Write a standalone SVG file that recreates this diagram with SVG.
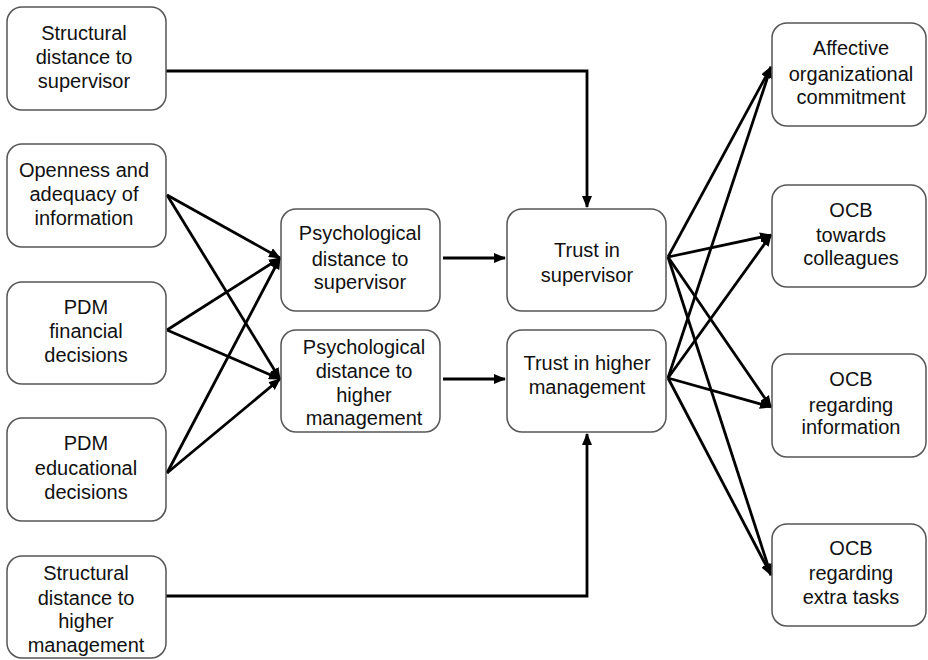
<svg xmlns="http://www.w3.org/2000/svg" width="928" height="660" viewBox="0 0 928 660">
<style>
.box{fill:#fff;stroke:#555;stroke-width:1.5}
text{font-family:"Liberation Sans",Arial,sans-serif;font-size:20px;fill:#111;text-anchor:middle}
.c{fill:none;stroke:#000;stroke-width:2.8}
</style>
<defs>
<marker id="ah" markerUnits="userSpaceOnUse" markerWidth="12" markerHeight="10" refX="11" refY="5" orient="auto">
<path d="M0,0 L12,5 L0,10 Z" fill="#000"/>
</marker>
</defs>
<rect width="928" height="660" fill="#fff"/>
<g id="connectors">
<path class="c" d="M166,71 H587 V207" marker-end="url(#ah)"/>
<path class="c" d="M166,596 H587 V434" marker-end="url(#ah)"/>
<line class="c" x1="167" y1="195" x2="280" y2="258" marker-end="url(#ah)"/>
<line class="c" x1="167" y1="195" x2="280" y2="379" marker-end="url(#ah)"/>
<line class="c" x1="167" y1="330" x2="280" y2="258" marker-end="url(#ah)"/>
<line class="c" x1="167" y1="330" x2="280" y2="379" marker-end="url(#ah)"/>
<line class="c" x1="167" y1="473" x2="280" y2="258" marker-end="url(#ah)"/>
<line class="c" x1="167" y1="473" x2="280" y2="379" marker-end="url(#ah)"/>
<line class="c" x1="443" y1="258" x2="505" y2="258" marker-end="url(#ah)"/>
<line class="c" x1="443" y1="379" x2="505" y2="379" marker-end="url(#ah)"/>
<line class="c" x1="668" y1="257" x2="771" y2="67" marker-end="url(#ah)"/>
<line class="c" x1="668" y1="257" x2="771" y2="235" marker-end="url(#ah)"/>
<line class="c" x1="668" y1="257" x2="771" y2="407" marker-end="url(#ah)"/>
<line class="c" x1="668" y1="257" x2="771" y2="575" marker-end="url(#ah)"/>
<line class="c" x1="668" y1="378" x2="771" y2="67" marker-end="url(#ah)"/>
<line class="c" x1="668" y1="378" x2="771" y2="235" marker-end="url(#ah)"/>
<line class="c" x1="668" y1="378" x2="771" y2="407" marker-end="url(#ah)"/>
<line class="c" x1="668" y1="378" x2="771" y2="575" marker-end="url(#ah)"/>
</g>
<g id="struct-sup"><rect class="box" x="7" y="7" width="159" height="103" rx="15"/>
<text x="84" y="40">Structural</text><text x="84" y="64">distance to</text><text x="84" y="88">supervisor</text></g>
<g id="openness"><rect class="box" x="7" y="144" width="159" height="103" rx="15"/>
<text x="84" y="177">Openness and</text><text x="84" y="201">adequacy of</text><text x="84" y="225">information</text></g>
<g id="pdm-fin"><rect class="box" x="7" y="282" width="159" height="102" rx="15"/>
<text x="86" y="314">PDM</text><text x="86" y="338">financial</text><text x="86" y="362">decisions</text></g>
<g id="pdm-edu"><rect class="box" x="7" y="418" width="159" height="103" rx="15"/>
<text x="86" y="450">PDM</text><text x="86" y="475">educational</text><text x="86" y="499">decisions</text></g>
<g id="struct-high"><rect class="box" x="7" y="556" width="159" height="102" rx="15"/>
<text x="86" y="580">Structural</text><text x="86" y="605">distance to</text><text x="86" y="628">higher</text><text x="86" y="652">management</text></g>
<g id="psych-sup"><rect class="box" x="281" y="209" width="159" height="102" rx="15"/>
<text x="360" y="240">Psychological</text><text x="360" y="266">distance to</text><text x="360" y="289">supervisor</text></g>
<g id="psych-high"><rect class="box" x="281" y="330" width="159" height="102" rx="15"/>
<text x="364" y="354">Psychological</text><text x="364" y="378">distance to</text><text x="364" y="402">higher</text><text x="364" y="425">management</text></g>
<g id="trust-sup"><rect class="box" x="507" y="209" width="159" height="102" rx="15"/>
<text x="587" y="257">Trust in</text><text x="587" y="282">supervisor</text></g>
<g id="trust-high"><rect class="box" x="507" y="330" width="159" height="102" rx="15"/>
<text x="587" y="370">Trust in higher</text><text x="587" y="394">management</text></g>
<g id="affective"><rect class="box" x="772" y="23" width="154" height="103" rx="15"/>
<text x="851" y="55">Affective</text><text x="851" y="81">organizational</text><text x="851" y="104">commitment</text></g>
<g id="ocb-coll"><rect class="box" x="772" y="185" width="154" height="102" rx="15"/>
<text x="851" y="217">OCB</text><text x="851" y="242">towards</text><text x="851" y="265">colleagues</text></g>
<g id="ocb-info"><rect class="box" x="772" y="354" width="154" height="103" rx="15"/>
<text x="851" y="386">OCB</text><text x="851" y="412">regarding</text><text x="851" y="434">information</text></g>
<g id="ocb-extra"><rect class="box" x="772" y="524" width="154" height="102" rx="15"/>
<text x="851" y="555">OCB</text><text x="851" y="580">regarding</text><text x="851" y="604">extra tasks</text></g>
</svg>
